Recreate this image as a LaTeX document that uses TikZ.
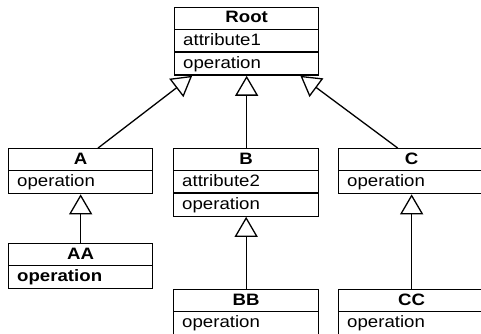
\documentclass[tikz,border=0pt]{standalone}
\usepackage{fontspec}
\setmainfont{Liberation Sans}[FakeStretch=1.13]
\usetikzlibrary{arrows.meta,calc}
\begin{document}
\begin{tikzpicture}[x=1pt,y=-1pt,
  font=\fontsize{16.5pt}{19pt}\selectfont,
  frame/.style={draw, line width=1.3pt, anchor=north west, inner sep=0pt},
  divline/.style={line width=1.3pt},
  ctitle/.style={anchor=base, inner sep=0pt, font=\fontsize{16.5pt}{19pt}\selectfont\bfseries},
  citem/.style={anchor=base west, inner sep=0pt},
  inh/.style={draw, line width=1.3pt, -{Triangle[open, length=20pt, width=23pt, line width=1.3pt]}}]
\useasboundingbox (0,0) rectangle (481,334);

% Root
\node[frame, minimum width=144pt, minimum height=67.5pt] (root) at (174,7) {};
\draw[divline] ($(root.north west)+(0,22.5)$) -- ($(root.north east)+(0,22.5)$);
\draw[divline] ($(root.north west)+(0,45)$) -- ($(root.north east)+(0,45)$);
\node[ctitle] (rootT) at ($(root.north)+(0,16)$) {Root};
\node[citem] (rootA) at ($(root.north west)+(9,38.8)$) {attribute1};
\node[citem] (rootO) at ($(root.north west)+(9,61.3)$) {operation};

% A
\node[frame, minimum width=144pt, minimum height=45pt] (a) at (8,148) {};
\draw[divline] ($(a.north west)+(0,22.5)$) -- ($(a.north east)+(0,22.5)$);
\node[ctitle] (aT) at ($(a.north)+(0,16)$) {A};
\node[citem] (aO) at ($(a.north west)+(9,38.8)$) {operation};

% AA
\node[frame, minimum width=144pt, minimum height=45pt] (aa) at (8,243) {};
\draw[divline] ($(aa.north west)+(0,22.5)$) -- ($(aa.north east)+(0,22.5)$);
\node[ctitle] (aaT) at ($(aa.north)+(0,16)$) {AA};
\node[citem, font=\fontsize{16.5pt}{19pt}\selectfont\bfseries] (aaO) at ($(aa.north west)+(9,38.8)$) {operation};

% B
\node[frame, minimum width=145pt, minimum height=67.5pt] (b) at (173,148) {};
\draw[divline] ($(b.north west)+(0,22.5)$) -- ($(b.north east)+(0,22.5)$);
\draw[divline] ($(b.north west)+(0,45)$) -- ($(b.north east)+(0,45)$);
\node[ctitle] (bT) at ($(b.north)+(0,16)$) {B};
\node[citem] (bA) at ($(b.north west)+(9,38.8)$) {attribute2};
\node[citem] (bO) at ($(b.north west)+(9,61.3)$) {operation};

% BB
\node[frame, minimum width=145pt, minimum height=45pt] (bb) at (173,289) {};
\draw[divline] ($(bb.north west)+(0,22.5)$) -- ($(bb.north east)+(0,22.5)$);
\node[ctitle] (bbT) at ($(bb.north)+(0,16)$) {BB};
\node[citem] (bbO) at ($(bb.north west)+(9,38.8)$) {operation};

% C
\node[frame, minimum width=146pt, minimum height=45pt] (c) at (338,148) {};
\draw[divline] ($(c.north west)+(0,22.5)$) -- ($(c.north east)+(0,22.5)$);
\node[ctitle] (cT) at ($(c.north)+(0,16)$) {C};
\node[citem] (cO) at ($(c.north west)+(9,38.8)$) {operation};

% CC
\node[frame, minimum width=146pt, minimum height=45pt] (cc) at (338,289) {};
\draw[divline] ($(cc.north west)+(0,22.5)$) -- ($(cc.north east)+(0,22.5)$);
\node[ctitle] (ccT) at ($(cc.north)+(0,16)$) {CC};
\node[citem] (ccO) at ($(cc.north west)+(9,38.8)$) {operation};

% inheritance
\draw[inh] ($(a.north west)!0.62!(a.north east)$) -- ($(root.south west)!0.125!(root.south east)$);
\draw[inh] (b.north -| root.south) -- (root.south);
\draw[inh] ($(c.north west)!0.405!(c.north east)$) -- ($(root.south west)!0.87!(root.south east)$);
\draw[inh] (aa.north) -- (a.south);
\draw[inh] (bb.north) -- (b.south);
\draw[inh] (cc.north) -- (c.south);
\end{tikzpicture}
\end{document}
